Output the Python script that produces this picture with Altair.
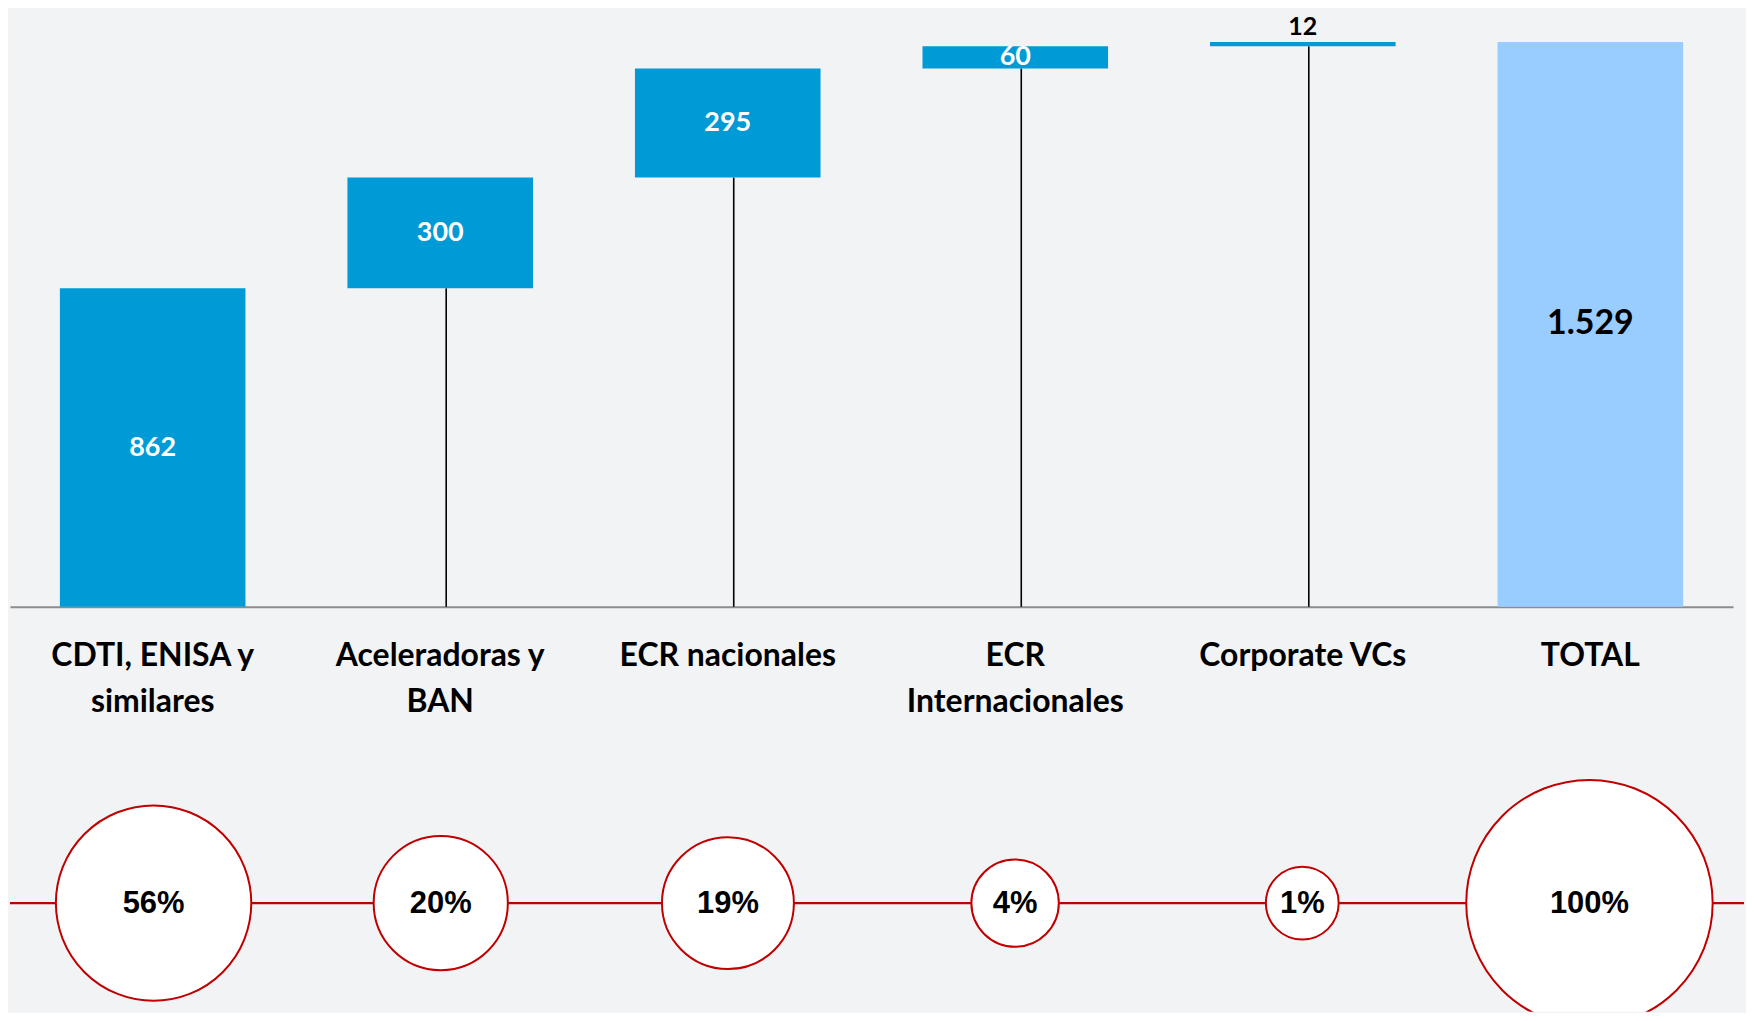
import altair as alt
import pandas as pd

# ---------------- data ----------------
categories = [
    "CDTI, ENISA y\nsimilares",
    "Aceleradoras y\nBAN",
    "ECR nacionales",
    "ECR\nInternacionales",
    "Corporate VCs",
    "TOTAL",
]
amounts = [862, 300, 295, 60, 12, 1529]
kinds = ["step", "step", "step", "step", "step", "total"]
amount_labels = ["862", "300", "295", "60", "12", "1.529"]
share_values = [56, 20, 19, 4, 1, 100]
share_labels = ["56%", "20%", "19%", "4%", "1%", "100%"]

# ---------------- styles ----------------
BG = "#f2f3f5"
STEP_BLUE = "#009bd6"
TOTAL_BLUE = "#99ccff"
RED = "#c00000"
FONT = "Lato"
PCT_FONT = "Liberation Sans"

# ---------------- layout ----------------
W = 1727          # plot width (both rows)
W_TOTAL = 1738    # full drawable width
H_TOP = 599
GAP = 163
H_BOT = 243
ROW_ABOVE = 134   # px of the bottom panel above the circle row
ROW_BELOW = H_BOT - ROW_ABOVE
PAD_IN = 0.3546
PAD_OUT = 0.1735

# waterfall table
rows = []
running = 0
for cat, amt, kind, lab in zip(categories, amounts, kinds, amount_labels):
    if kind == "total":
        start, end = 0, amt
    else:
        start, end = running, running + amt
        running = end
    rows.append(dict(category=cat, start=start, end=end, mid=(start + end) / 2,
                     amount=amt, kind=kind, label=lab, zero=0))
df = pd.DataFrame(rows)
total_value = amounts[-1]

x_scale = alt.Scale(domain=categories, paddingInner=PAD_IN, paddingOuter=PAD_OUT)
x_top = alt.X(
    "category:N", sort=categories, scale=x_scale,
    axis=alt.Axis(
        title=None, labelExpr="split(datum.label, '\\n')", labelAngle=0,
        labelFont=FONT, labelFontSize=32, labelFontWeight="bold", labelColor="#000000",
        labelPadding=34, labelLineHeight=46, labelLimit=600, labelOverlap=False,
        ticks=False, grid=False, domainColor="#8c8c8c", domainWidth=2,
    ),
)
y_scale = alt.Scale(domain=[0, total_value * 1.058], nice=False, zero=True)

base = alt.Chart(df)

connectors = base.transform_filter("datum.kind == 'step' && datum.start > 0").mark_rule(
    color="#000000", strokeWidth=1.6, xOffset=6
).encode(x=x_top, y=alt.Y("zero:Q", scale=y_scale, axis=None), y2="start:Q")

bars = base.mark_bar().encode(
    x=x_top,
    y=alt.Y("start:Q", scale=y_scale, axis=None),
    y2="end:Q",
    color=alt.Color("kind:N", scale=alt.Scale(domain=["step", "total"], range=[STEP_BLUE, TOTAL_BLUE]), legend=None),
)

inside = base.transform_filter("datum.kind == 'step' && datum.amount >= 30").mark_text(
    font=FONT, fontSize=27, fontWeight="bold", color="#ffffff", baseline="middle"
).encode(x=x_top, y=alt.Y("mid:Q", scale=y_scale, axis=None), text="label:N")

above = base.transform_filter("datum.kind == 'step' && datum.amount < 30").mark_text(
    font=FONT, fontSize=25, fontWeight="bold", color="#000000", baseline="alphabetic", dy=-7
).encode(x=x_top, y=alt.Y("end:Q", scale=y_scale, axis=None), text="label:N")

total_lab = base.transform_filter("datum.kind == 'total'").mark_text(
    font=FONT, fontSize=34, fontWeight="bold", color="#000000", baseline="middle"
).encode(x=x_top, y=alt.Y("mid:Q", scale=y_scale, axis=None), text="label:N")

top = alt.layer(connectors, bars, inside, above, total_lab).properties(width=W, height=H_TOP)

# ---------------- bottom row ----------------
sdf = pd.DataFrame({"category": categories, "share": share_values, "share_label": share_labels})
row_scale = alt.Scale(domain=[-ROW_BELOW, ROW_ABOVE], nice=False, zero=False)
x_bot = alt.X("category:N", sort=categories, scale=x_scale, axis=None)

line = alt.Chart(pd.DataFrame({"row": [0]})).mark_rule(color=RED, strokeWidth=2.2).encode(
    x=alt.value(0), x2=alt.value(W_TOTAL), y=alt.Y("row:Q", scale=row_scale, axis=None)
)

circles = alt.Chart(sdf).mark_circle(
    fill="#ffffff", stroke=RED, strokeWidth=2, opacity=1, fillOpacity=1, strokeOpacity=1, clip=True
).encode(
    x=x_bot,
    y=alt.datum(0, scale=row_scale, axis=None),
    size=alt.Size("share:Q", scale=alt.Scale(type="pow", exponent=0.88, domain=[1, 100],
                                              range=[73 ** 2, 247 ** 2]), legend=None),
)

pct = alt.Chart(sdf).mark_text(
    font=PCT_FONT, fontSize=31, fontWeight="bold", color="#000000", baseline="middle", dy=1
).encode(x=x_bot, y=alt.datum(0, scale=row_scale, axis=None), text="share_label:N")

bottom = alt.layer(line, circles, pct).properties(width=W, height=H_BOT)

chart = alt.vconcat(top, bottom, spacing=GAP, bounds="flush").properties(
    padding=0, background=BG
).configure(font=FONT).configure_view(stroke="transparent", strokeWidth=0)

chart.save("out.html", embed_options={"renderer": "svg", "actions": False})
